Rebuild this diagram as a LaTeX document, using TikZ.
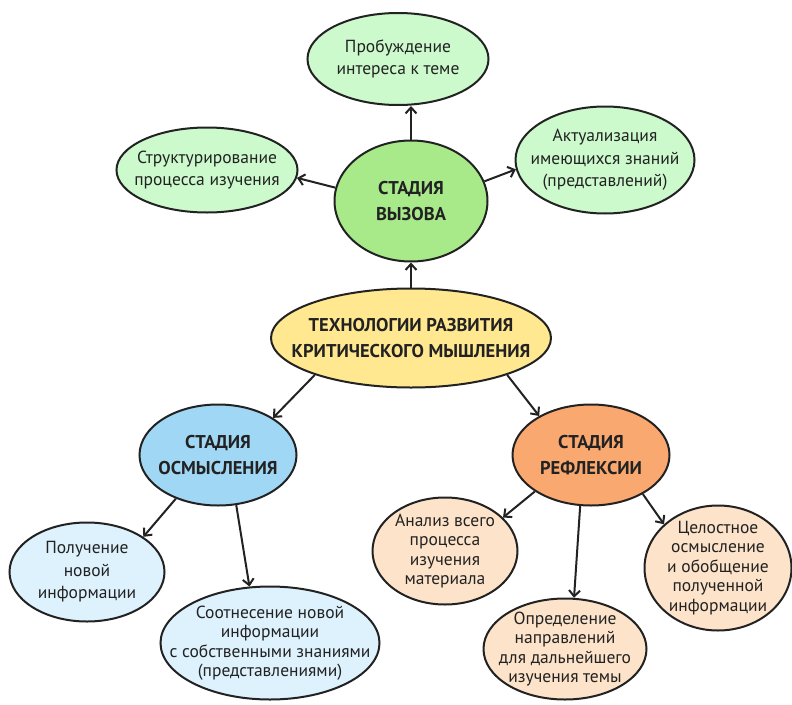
\documentclass[tikz,border=0pt]{standalone}
\usepackage{fontspec}
\setmainfont{PT Sans}
\usetikzlibrary{shapes.geometric,arrows.meta}
\definecolor{lgreen}{HTML}{CCFACC}
\definecolor{dgreen}{HTML}{A8E98A}
\definecolor{yel}{HTML}{FFE890}
\definecolor{dblue}{HTML}{A0D7F5}
\definecolor{lblue}{HTML}{DDF2FD}
\definecolor{dorange}{HTML}{F9A870}
\definecolor{lorange}{HTML}{FCE3C9}
\definecolor{ink}{HTML}{222222}
\tikzset{
  bub/.style={ellipse, draw=ink, line width=2pt, inner sep=0pt},
  txt/.style={align=center, inner sep=0pt, text=ink, font=\fontsize{17.5}{22.5}\selectfont},
  dense/.style={txt, font=\fontsize{17.5}{19.5}\selectfont},
  hubtxt/.style={txt, font=\fontsize{18.5}{25.5}\selectfont\bfseries},
  arr/.style={draw=ink, line width=2pt, -{Straight Barb[length=6pt,width=11pt]}},
}
\begin{document}
\begin{tikzpicture}[x=1pt,y=-1pt]
\useasboundingbox (0,0) rectangle (792,704);
% hubs
\node[bub, fill=yel, minimum width=280pt, minimum height=99pt] (tech) at (411,338) {};
\node[hubtxt] (techt) at (tech.center) {ТЕХНОЛОГИИ РАЗВИТИЯ\\КРИТИЧЕСКОГО МЫШЛЕНИЯ};
\node[bub, fill=dgreen, minimum width=153pt, minimum height=121pt] (vyz) at (411,201) {};
\node[hubtxt] (vyzt) at (vyz.center) {СТАДИЯ\\ВЫЗОВА};
\node[bub, fill=dblue, minimum width=157pt, minimum height=101pt] (osm) at (218,455) {};
\node[hubtxt] (osmt) at (osm.center) {СТАДИЯ\\ОСМЫСЛЕНИЯ};
\node[bub, fill=dorange, minimum width=157pt, minimum height=101pt] (ref) at (591,455) {};
\node[hubtxt] (reft) at (ref.center) {СТАДИЯ\\РЕФЛЕКСИИ};
% green children
\node[bub, fill=lgreen, minimum width=181pt, minimum height=92pt] (top) at (398,59) {};
\node[txt] (topt) at (top.center) {Пробуждение\\интереса к теме};
\node[bub, fill=lgreen, minimum width=181pt, minimum height=85pt] (lft) at (207,170) {};
\node[txt] (lftt) at (lft.center) {Структурирование\\процесса изучения};
\node[bub, fill=lgreen, minimum width=179pt, minimum height=107pt] (rgt) at (605,160) {};
\node[txt] (rgtt) at (rgt.center) {Актуализация\\имеющихся знаний\\(представлений)};
% blue children
\node[bub, fill=lblue, minimum width=155pt, minimum height=99pt] (pol) at (87,572) {};
\node[txt] (polt) at (pol.center) {Получение\\новой\\информации};
\node[bub, fill=lblue, minimum width=219pt, minimum height=113pt] (soo) at (270,643) {};
\node[dense] (soot) at (soo.center) {Соотнесение новой\\информации\\с собственными знаниями\\(представлениями)};
% orange children
\node[bub, fill=lorange, minimum width=145pt, minimum height=107pt] (ana) at (445,551) {};
\node[dense] (anat) at (ana.center) {Анализ всего\\процесса\\изучения\\материала};
\node[bub, fill=lorange, minimum width=163pt, minimum height=101pt] (opr) at (565,649) {};
\node[dense] (oprt) at (opr.center) {Определение\\направлений\\для дальнейшего\\изучения темы};
\node[bub, fill=lorange, minimum width=147pt, minimum height=125pt] (cel) at (718,568) {};
\node[dense] (celt) at (cel.center) {Целостное\\осмысление\\и обобщение\\полученной\\информации};
% connectors
\draw[arr] (tech.north) -- (vyz.south);
\draw[arr] (vyz.north) -- (vyz.north |- top.south);
\draw[arr] (vyz.170) -- (lft.355);
\draw[arr] (vyz.15) -- (rgt.186);
\draw[arr] (tech.201) -- (osm.34);
\draw[arr] (tech.339) -- (ref.143);
\draw[arr] (osm.226) -- (pol.32);
\draw[arr] (osm.290) -- (soo.110);
\draw[arr] (ref.213) -- (ana.30);
\draw[arr] (ref.258) -- (opr.80);
\draw[arr] (ref.323) -- (cel.141);
\end{tikzpicture}
\end{document}
